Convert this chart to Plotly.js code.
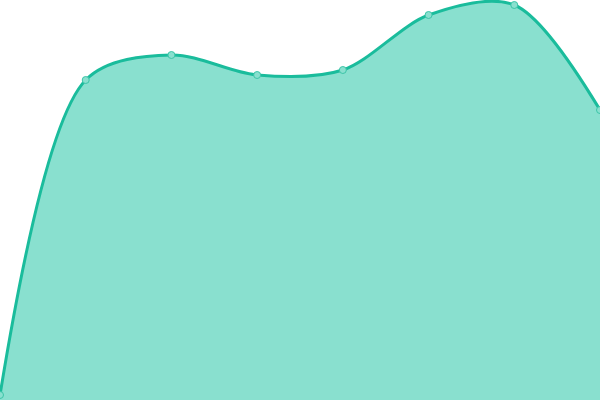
<!DOCTYPE html>
<html>
<head>
<meta charset="utf-8">
<script src="https://cdn.plot.ly/plotly-3.0.1.min.js"></script>
<style>
  html, body { margin: 0; padding: 0; background: #fff; }
  #chart { width: 600px; height: 400px; }
</style>
</head>
<body>
<div id="chart"></div>
<script>
// area chart, no axes
var xs = [0, 1, 2, 3, 4, 5, 6, 7];
var values = [1, 64, 69, 65, 66, 77, 79, 58];

var trace = {
  type: "scatter",
  mode: "lines+markers",
  x: xs,
  y: values,
  fill: "tozeroy",
  fillcolor: "#89e0cf",
  line: {shape: "spline", smoothing: 0.9, color: "#1abc9c", width: 3},
  marker: {size: 7, color: "#89e0cf", line: {color: "#3cc5a8", width: 1}},
  hoverinfo: "none"
};

var layout = {
  width: 600,
  height: 400,
  margin: {l: 0, r: 0, t: 0, b: 0},
  paper_bgcolor: "#fff",
  plot_bgcolor: "#fff",
  showlegend: false,
  xaxis: {range: [0, 7], visible: false, fixedrange: true},
  yaxis: {range: [0, 80], visible: false, fixedrange: true}
};

Plotly.newPlot("chart", [trace], layout, {displayModeBar: false, staticPlot: true});
</script>
</body>
</html>
